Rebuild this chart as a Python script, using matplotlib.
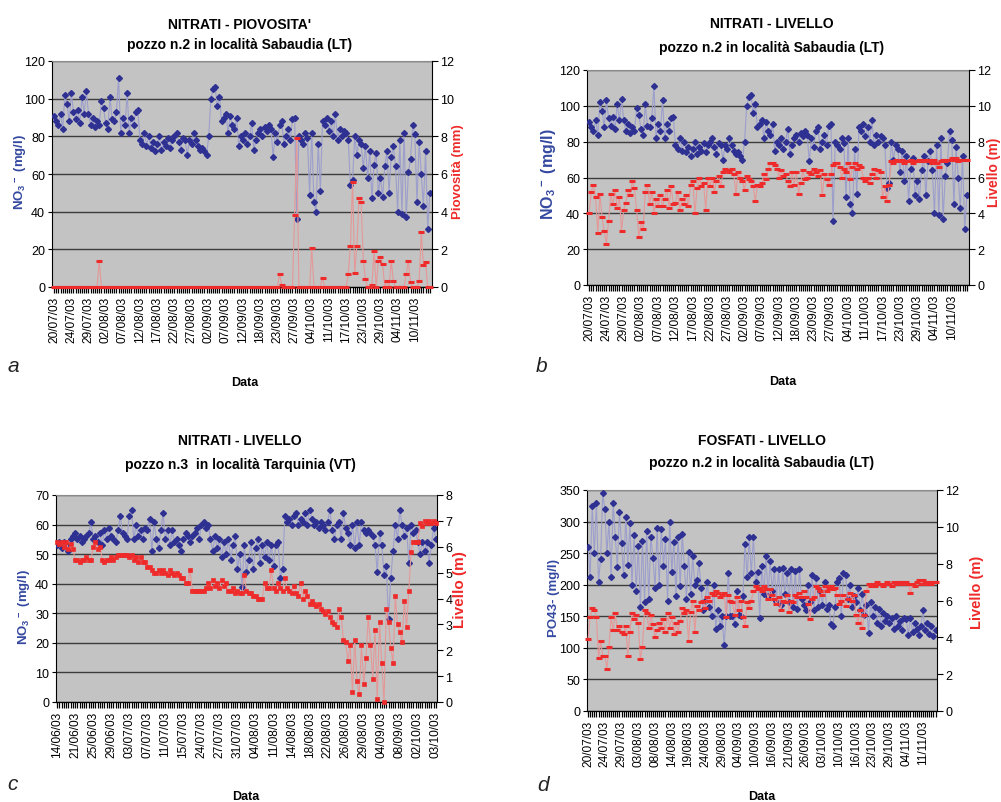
import numpy as np
import matplotlib
matplotlib.use('Agg')
import matplotlib.pyplot as plt
from matplotlib import font_manager
from matplotlib.ticker import MultipleLocator, FixedLocator

W, H = 1001, 803

names = {f.name for f in font_manager.fontManager.ttflist}
NARROW = 'Liberation Sans Narrow' if 'Liberation Sans Narrow' in names else 'Liberation Sans'

plt.rcParams['font.family'] = ['Liberation Sans', 'DejaVu Sans']
plt.rcParams['mathtext.fontset'] = 'custom'
plt.rcParams['mathtext.rm'] = 'Liberation Sans:bold'
plt.rcParams['mathtext.bf'] = 'Liberation Sans:bold'

BLUE = '#2E3192'
BLUE_LINE = '#9C9ECC'
BLUE_TXT = '#3448A0'
RED = '#EE2A2A'
RED_LINE = '#E59898'
BG = '#C3C3C3'

# ---- Sabaudia, pozzo n.2 (panels a, b) ----
labels_sab = ['20/07/03', '24/07/03', '29/07/03', '02/08/03', '07/08/03', '12/08/03',
              '17/08/03', '22/08/03', '27/08/03', '02/09/03', '07/09/03', '12/09/03',
              '18/09/03', '23/09/03', '27/09/03', '04/10/03', '11/10/03', '17/10/03',
              '23/10/03', '29/10/03', '04/11/03', '10/11/03']

nitrati_sab = [91, 88, 86, 92, 84, 102, 97, 88,
               103, 93, 89, 94, 87, 101, 92, 104,
               92, 86, 90, 85, 88, 86, 99, 95,
               87, 84, 101, 89, 88, 93, 111, 82,
               90, 86, 103, 82, 90, 86, 93, 94,
               78, 76, 82, 75, 80, 74, 77, 72,
               76, 80, 73, 77, 75, 79, 74, 78,
               80, 82, 77, 73, 79, 78, 70, 78,
               76, 82, 78, 75, 73, 74, 72, 70,
               80, 100, 105, 106, 96, 101, 88, 90,
               92, 82, 91, 86, 84, 90, 75, 80,
               78, 82, 76, 80, 87, 73, 78, 82,
               84, 80, 85, 83, 86, 84, 69, 82,
               77, 86, 88, 76, 80, 84, 78, 89,
               90, 36, 80, 78, 76, 82, 79, 49,
               82, 45, 40, 76, 51, 88, 86, 90,
               83, 88, 80, 92, 78, 84, 80, 83,
               82, 78, 54, 57, 80, 70, 78, 76,
               63, 75, 58, 72, 47, 65, 71, 50,
               58, 48, 64, 72, 50, 69, 75, 64,
               40, 78, 39, 82, 37, 61, 68, 86,
               81, 45, 77, 60, 43, 72, 31, 50]

# rainfall: days with rain (index in the series) and amount in mm, all other days 0
pioggia_idx = [21, 105, 106, 112, 113, 120, 125, 137, 138, 139, 140, 141, 142, 143,
               144, 145, 148, 149, 151, 152, 153, 155, 157, 158, 164, 165, 166,
               170, 171, 172, 173]
pioggia_mm = [1.4, 0.7, 0.1, 3.8, 7.9, 2.05, 0.5, 0.7, 2.2, 5.6, 0.75, 2.2, 4.7, 4.5,
              1.4, 0.45, 0.1, 1.9, 1.4, 1.6, 1.2, 0.3, 1.4, 0.3, 0.7, 1.4, 0.25,
              0.3, 2.9, 1.15, 1.35]

livello_sab = [4.0, 5.2, 5.6, 4.9, 2.9, 5.1, 3.8, 3.0,
               2.3, 3.6, 5.1, 4.5, 5.3, 4.3, 4.9, 3.0,
               4.2, 4.6, 5.3, 5.0, 5.8, 5.4, 4.2, 2.7,
               3.5, 3.1, 5.2, 5.6, 4.5, 5.2, 4.0, 4.8,
               4.4, 5.0, 4.4, 4.8, 5.3, 4.3, 5.5, 4.5,
               4.6, 5.2, 4.2, 4.8, 4.5, 5.0, 4.4, 5.6,
               5.8, 4.0, 5.4, 6.0, 5.5, 5.7, 4.2, 6.0,
               5.5, 6.0, 5.2, 5.8, 6.1, 5.5, 6.3, 6.5,
               6.4, 6.3, 6.5, 6.2, 5.1, 6.3, 6.0, 5.8,
               5.3, 6.1, 5.9, 5.8, 5.5, 4.7, 5.6, 5.5,
               5.7, 6.2, 5.9, 6.5, 6.8, 6.8, 6.7, 6.5,
               6.0, 6.4, 6.1, 6.2, 5.8, 5.5, 6.3, 5.6,
               6.3, 5.1, 5.7, 6.4, 5.9, 6.0, 6.3, 6.2,
               6.5, 6.3, 6.1, 6.4, 5.0, 6.2, 5.9, 5.6,
               6.2, 6.7, 6.8, 6.8, 6.6, 6.0, 6.5, 6.3,
               6.8, 5.9, 6.6, 6.8, 6.5, 6.7, 6.6, 6.0,
               5.8, 6.0, 5.7, 6.2, 6.5, 6.0, 6.4, 6.3,
               4.9, 5.5, 4.7, 5.6, 6.9, 6.8, 7.0, 6.9,
               6.9, 7.0, 6.8, 6.9, 6.9, 7.0, 6.8, 6.9,
               6.9, 7.0, 6.9, 7.0, 7.0, 6.9, 7.0, 6.8,
               7.0, 6.8, 6.6, 6.9, 7.0, 6.9, 7.0, 7.0,
               7.1, 7.0, 7.1, 6.9, 7.0, 7.0, 7.0, 7.0]

# ---- Sabaudia, fosfati (panel d) ----
labels_fos = ['20/07/03', '24/07/03', '29/07/03', '03/08/03', '08/08/03', '14/08/03',
              '19/08/03', '24/08/03', '29/08/03', '04/09/03', '10/09/03', '16/09/03',
              '21/09/03', '26/09/03', '03/10/03', '10/10/03', '16/10/03', '23/10/03',
              '29/10/03', '04/11/03', '11/11/03']

fosfati = [260, 212, 325, 250, 330, 205, 240, 345,
           320, 250, 300, 212, 330, 276, 228, 315,
           266, 215, 308, 232, 297, 200, 278, 190,
           262, 165, 270, 172, 285, 178, 275, 243,
           195, 290, 200, 288, 230, 272, 175, 300,
           220, 268, 182, 275, 198, 280, 230, 178,
           252, 185, 245, 200, 207, 235, 195, 160,
           175, 205, 165, 150, 200, 130, 160, 135,
           150, 105, 150, 218, 150, 150, 138, 190,
           152, 150, 182, 265, 212, 275, 218, 275,
           205, 220, 148, 230, 185, 245, 182, 238,
           190, 225, 175, 225, 168, 226, 185, 218,
           172, 225, 165, 222, 162, 225, 178, 168,
           160, 200, 172, 215, 160, 210, 165, 190,
           168, 205, 162, 168, 138, 135, 165, 205,
           210, 150, 218, 215, 178, 200, 165, 182,
           172, 195, 160, 185, 152, 168, 124, 172,
           150, 165, 140, 162, 135, 155, 142, 150,
           140, 148, 130, 150, 135, 142, 128, 148,
           145, 120, 148, 125, 140, 130, 120, 135,
           160, 128, 140, 122, 135, 118, 128]

livello_fos = [3.9, 5.1, 5.6, 5.5, 5.1, 2.9, 3.8, 3.0,
               3.0, 2.3, 3.5, 5.1, 4.4, 5.3, 4.4, 4.6,
               4.3, 4.2, 4.6, 3.0, 4.3, 5.3, 5.0, 5.2,
               4.8, 2.8, 3.5, 5.5, 5.3, 4.5, 5.2, 4.7,
               4.0, 4.4, 4.8, 4.5, 5.0, 4.3, 5.3, 4.5,
               5.1, 4.2, 4.8, 4.3, 4.9, 5.6, 5.3, 5.5,
               3.8, 5.4, 6.0, 4.3, 5.7, 5.5, 5.9, 6.0,
               5.6, 6.2, 6.0, 6.4, 6.3, 6.5, 6.4, 6.2,
               6.3, 6.4, 5.1, 6.3, 6.0, 5.9, 5.2, 6.2,
               5.5, 6.0, 5.1, 4.6, 5.9, 5.6, 6.0, 6.5,
               6.8, 6.6, 6.7, 6.5, 6.8, 6.6, 6.1, 6.6,
               6.3, 6.1, 5.8, 6.2, 5.5, 6.0, 5.9, 6.3,
               5.4, 6.0, 5.9, 6.3, 6.2, 6.4, 6.2, 6.5,
               6.2, 5.8, 5.0, 6.1, 6.2, 6.8, 6.7, 6.5,
               6.3, 6.8, 6.5, 6.7, 6.8, 6.6, 6.7, 6.3,
               5.8, 6.0, 6.3, 5.7, 6.1, 6.4, 6.0, 6.3,
               5.2, 4.8, 5.5, 4.5, 5.2, 6.5, 6.9, 6.8,
               6.9, 6.8, 7.0, 6.9, 6.9, 6.8, 6.9, 7.0,
               6.9, 6.8, 7.0, 6.9, 7.0, 7.0, 6.9, 7.0,
               7.0, 6.9, 6.4, 6.9, 6.8, 7.0, 7.1, 6.9,
               7.1, 7.0, 6.9, 7.0, 6.9, 7.0, 7.0]

# ---- Tarquinia, pozzo n.3 (panel c) ----
labels_tar = ['14/06/03', '21/06/03', '25/06/03', '29/06/03', '03/07/03', '07/07/03',
              '11/07/03', '15/07/03', '24/07/03', '27/07/03', '31/07/03', '04/08/03',
              '11/08/03', '14/08/03', '18/08/03', '22/08/03', '26/08/03', '29/08/03',
              '04/09/03', '08/09/03', '02/10/03', '03/10/03']

nitrati_tar = [53, 54, 52, 54, 53, 51, 55, 56,
               57, 55, 56, 54, 55, 56, 57, 61,
               55, 56, 54, 57, 53, 58, 55, 59,
               56, 55, 54, 58, 63, 57, 56, 55,
               63, 65, 55, 60, 56, 58, 55, 59,
               58, 62, 51, 61, 55, 52, 58, 64,
               55, 58, 53, 58, 54, 55, 53, 51,
               55, 57, 56, 54, 56, 57, 59, 55,
               60, 61, 59, 60, 55, 51, 56, 52,
               55, 49, 54, 50, 55, 48, 53, 56,
               45, 50, 39, 53, 44, 48, 54, 45,
               52, 55, 47, 53, 49, 54, 48, 53,
               46, 53, 54, 42, 45, 63, 61, 62,
               60, 63, 64, 60, 62, 61, 64, 60,
               65, 62, 60, 61, 59, 61, 60, 58,
               61, 65, 58, 55, 60, 61, 55, 64,
               59, 57, 53, 60, 52, 61, 53, 61,
               58, 57, 58, 57, 56, 53, 44, 57,
               53, 43, 46, 28, 42, 51, 60, 55,
               65, 60, 56, 59, 47, 60, 57, 58,
               54, 50, 54, 51, 54, 47, 53, 59,
               55]

livello_tar = [6.2, 6.1, 6.2, 6.0, 6.2, 5.9, 6.1, 5.9,
               5.5, 5.5, 5.4, 5.5, 5.5, 5.6, 5.5, 5.5,
               6.0, 6.2, 5.9, 6.0, 5.5, 5.4, 5.5, 5.5,
               5.6, 5.5, 5.6, 5.7, 5.7, 5.7, 5.7, 5.7,
               5.6, 5.7, 5.5, 5.6, 5.4, 5.6, 5.4, 5.4,
               5.2, 5.2, 5.1, 5.0, 5.0, 5.1, 5.0, 5.1,
               5.0, 4.9, 5.1, 5.0, 4.9, 5.0, 4.9, 4.8,
               4.8, 4.6, 4.6, 5.1, 4.3, 4.3, 4.3, 4.3,
               4.3, 4.3, 4.4, 4.6, 4.4, 4.7, 4.5, 4.6,
               4.4, 4.7, 4.5, 4.6, 4.3, 4.3, 4.4, 4.2,
               4.3, 4.2, 4.2, 4.9, 4.3, 4.2, 4.2, 4.1,
               4.1, 4.0, 4.0, 4.0, 4.6, 4.4, 4.4, 5.1,
               4.4, 4.3, 4.6, 4.4, 4.3, 4.8, 4.4, 4.3,
               4.2, 4.5, 4.2, 4.1, 4.6, 4.0, 4.3, 4.1,
               3.8, 3.9, 3.8, 3.7, 3.8, 3.6, 3.5, 3.4,
               3.5, 3.3, 3.1, 3.0, 2.9, 3.6, 3.3, 2.4,
               2.3, 1.6, 2.2, 0.4, 2.4, 0.8, 0.3, 2.2,
               0.7, 1.7, 3.3, 2.2, 0.9, 2.8, 0.1, 3.1,
               1.5, 0.0, 3.6, 3.1, 2.1, 1.5, 4.1, 3.0,
               2.7, 2.3, 3.9, 2.9, 4.3, 5.8, 6.2, 6.2,
               6.2, 6.9, 6.8, 7.0, 6.9, 7.0, 6.9, 7.0,
               6.9]


def frame(px_left, px_top, px_right, px_bottom):
    return [px_left / W, 1 - px_bottom / H, (px_right - px_left) / W, (px_bottom - px_top) / H]


def ftext(px, py, s, **kw):
    fig.text(px / W, 1 - py / H, s, ha='center', va='center', **kw)


def panel(rect, yl, yr, labels, xlim, lim_l, step_l, lim_r, step_r, red_marker, red_ms, red_mew):
    ax = fig.add_axes(rect)
    x = np.arange(len(yl))
    ax.set_facecolor(BG)
    ax.plot(x, yl, color=BLUE_LINE, lw=0.8, zorder=3)
    ax.plot(x, yl, ls='none', marker='D', ms=3.0, color=BLUE, zorder=4)
    ax.set_xlim(*xlim)
    ax.set_ylim(*lim_l)
    ax.yaxis.set_major_locator(MultipleLocator(step_l))
    ax.grid(axis='y', color='#3C3C3C', lw=1.0)
    ax.set_axisbelow(True)
    ax.set_xticks(np.arange(0, len(labels) * 8, 8))
    ax.set_xticklabels(labels, rotation=90, fontsize=8.6, family='Liberation Sans')
    ax.xaxis.set_minor_locator(FixedLocator(x))
    ax.tick_params(axis='x', which='both', length=4, width=0.9, direction='out', pad=2)
    ax.tick_params(axis='y', length=3, labelsize=9, pad=2)
    for t in ax.get_yticklabels():
        t.set_family(NARROW)
    ax.spines['top'].set_color('#8A8A8A')
    ax.spines['right'].set_visible(False)

    ax2 = ax.twinx()
    ax2.plot(x, yr, color=RED_LINE, lw=0.8, zorder=3)
    ax2.plot(x, yr, ls='none', marker=red_marker, ms=red_ms, mew=red_mew,
             color=RED, mec=RED, zorder=4, clip_on=False)
    ax2.set_ylim(*lim_r)
    ax2.yaxis.set_major_locator(MultipleLocator(step_r))
    ax2.tick_params(axis='y', length=4, labelsize=9, pad=2)
    for t in ax2.get_yticklabels():
        t.set_family(NARROW)
    ax2.spines['top'].set_visible(False)
    ax2.spines['left'].set_visible(False)
    return ax, ax2


fig = plt.figure(figsize=(W / 100, H / 100), dpi=100)

pioggia = np.zeros(len(nitrati_sab))
pioggia[pioggia_idx] = pioggia_mm

# a
panel(frame(52, 62, 432, 288), nitrati_sab, pioggia, labels_sab, (-1, 176),
      (0, 120), 20, (0, 12), 2, '_', 5.0, 2.2)
ftext(240, 25, "NITRATI - PIOVOSITA'", fontsize=10, fontweight='bold', family=NARROW)
ftext(240, 45, 'pozzo n.2 in località Sabaudia (LT)', fontsize=10, fontweight='bold', family=NARROW)
ftext(21, 172, r'NO$_3$$^-$ (mg/l)', fontsize=9.5, fontweight='bold', color=BLUE_TXT, rotation=90)
ftext(458, 172, 'Piovosità (mm)', fontsize=9.5, fontweight='bold', color=RED, rotation=90)
ftext(245, 383, 'Data', fontsize=9, fontweight='bold', family=NARROW)
ftext(13, 367, 'a', fontsize=15, style='italic', family=NARROW, color='#222222')

# b
panel(frame(587, 71, 969, 286), nitrati_sab, livello_sab, labels_sab, (-1, 176),
      (0, 120), 20, (0, 12), 2, '_', 5.0, 2.2)
ftext(772, 24, 'NITRATI - LIVELLO', fontsize=10, fontweight='bold', family=NARROW)
ftext(772, 48, 'pozzo n.2 in località Sabaudia (LT)', fontsize=10, fontweight='bold', family=NARROW)
ftext(548, 174, r'NO$_3$$^-$ (mg/l)', fontsize=11.5, fontweight='bold', color=BLUE_TXT, rotation=90)
ftext(994, 172, 'Livello (m)', fontsize=10, fontweight='bold', color=RED, rotation=90)
ftext(783, 382, 'Data', fontsize=9, fontweight='bold', family=NARROW)
ftext(542, 367, 'b', fontsize=15, style='italic', family=NARROW, color='#222222')

# c
panel(frame(56, 496, 437, 703), nitrati_tar, livello_tar, labels_tar, (-0.5, 168.5),
      (0, 70), 10, (0, 8), 1, 's', 3.3, 0.5)
ftext(240, 441, 'NITRATI - LIVELLO', fontsize=10, fontweight='bold', family=NARROW)
ftext(240, 465, 'pozzo n.3  in località Tarquinia (VT)', fontsize=10, fontweight='bold', family=NARROW)
ftext(25, 607, r'NO$_3$$^-$ (mg/l)', fontsize=9.5, fontweight='bold', color=BLUE_TXT, rotation=90)
ftext(460, 590, 'Livello (m)', fontsize=11, fontweight='bold', color=RED, rotation=90)
ftext(246, 797, 'Data', fontsize=9, fontweight='bold', family=NARROW)
ftext(13, 785, 'c', fontsize=15, style='italic', family=NARROW, color='#222222')

# d
panel(frame(587, 491, 937, 712), fosfati, livello_fos, labels_fos, (-0.5, 166.7),
      (0, 350), 50, (0, 12), 2, '_', 5.0, 2.2)
ftext(762, 441, 'FOSFATI - LIVELLO', fontsize=10, fontweight='bold', family=NARROW)
ftext(762, 463, 'pozzo n.2 in località Sabaudia (LT)', fontsize=10, fontweight='bold', family=NARROW)
ftext(554, 598, 'PO43- (mg/l)', fontsize=9.5, fontweight='bold', color=BLUE_TXT, rotation=90)
ftext(977, 592, 'Livello (m)', fontsize=10.5, fontweight='bold', color=RED, rotation=90)
ftext(762, 797, 'Data', fontsize=9, fontweight='bold', family=NARROW)
ftext(543, 786, 'd', fontsize=15, style='italic', family=NARROW, color='#222222')

fig.savefig('out.png', dpi=100, facecolor='white')
